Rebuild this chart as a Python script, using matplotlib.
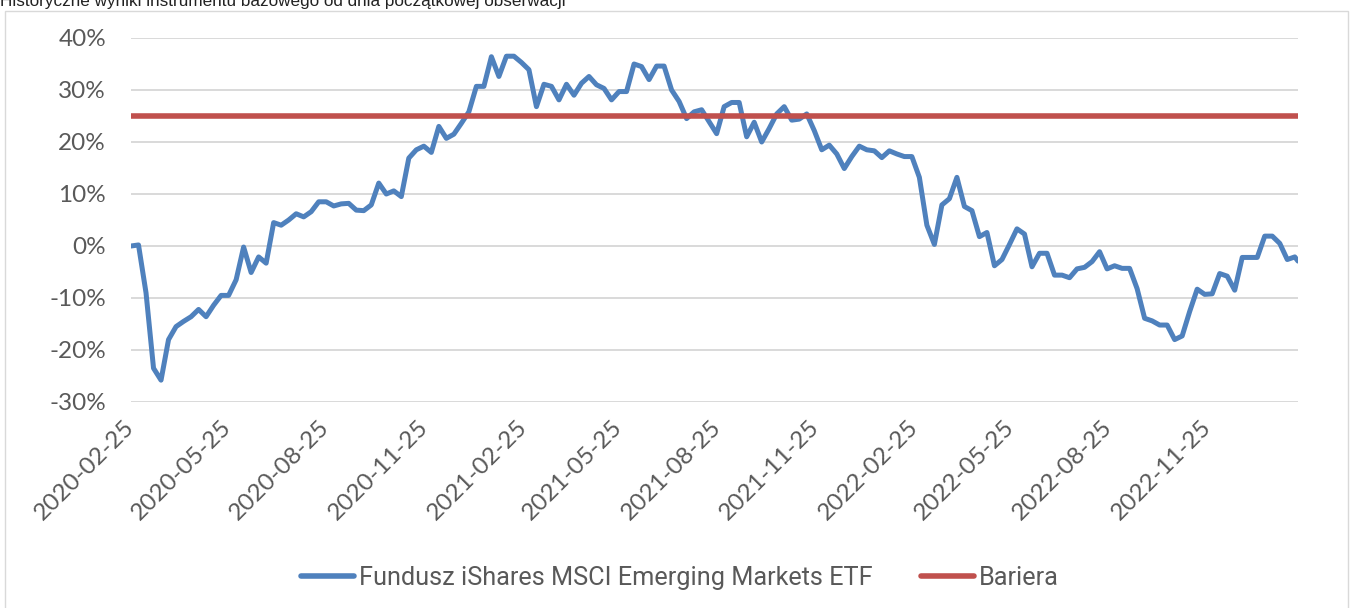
import matplotlib
matplotlib.use("Agg")
import matplotlib.pyplot as plt
import matplotlib.dates as mdates
from matplotlib.ticker import FuncFormatter
from matplotlib.patches import Rectangle
import pandas as pd

plt.rcParams["font.family"] = ["Lato", "DejaVu Sans"]

# ---- data (percent) ----
title = "Historyczne wyniki instrumentu bazowego od dnia początkowej obserwacji"
series_name = "Fundusz iShares MSCI Emerging Markets ETF"
barrier_name = "Bariera"
barrier_level = 25.0
start_date = "2020-02-25"
last_date = "2023-02-17"
etf_values = [
    0.0, 0.2, -9.0, -23.5, -25.8, -18.0, -15.5, -14.5, -13.6, -12.2,
    -13.6, -11.4, -9.5, -9.5, -6.5, -0.2, -5.1, -2.1, -3.3, 4.5,
    4.0, 5.0, 6.2, 5.6, 6.6, 8.5, 8.5, 7.7, 8.1, 8.2,
    6.9, 6.8, 7.9, 12.1, 10.0, 10.6, 9.5, 16.9, 18.5, 19.2,
    18.0, 23.0, 20.7, 21.5, 23.6, 25.8, 30.7, 30.7, 36.4, 32.6,
    36.5, 36.5, 35.3, 33.9, 26.8, 31.1, 30.7, 28.1, 31.1, 29.0,
    31.3, 32.6, 31.0, 30.3, 28.1, 29.7, 29.7, 35.0, 34.5, 32.0,
    34.6, 34.6, 30.0, 27.8, 24.5, 25.8, 26.2, 23.9, 21.6, 26.8,
    27.6, 27.6, 21.0, 23.8, 20.0, 22.6, 25.4, 26.8, 24.2, 24.4,
    25.4, 22.2, 18.5, 19.4, 17.7, 14.9, 17.2, 19.2, 18.5, 18.3,
    17.0, 18.3, 17.7, 17.2, 17.2, 13.2, 4.0, 0.3, 7.9, 9.1,
    13.2, 7.6, 6.8, 1.8, 2.6, -3.8, -2.6, 0.3, 3.3, 2.3,
    -4.0, -1.4, -1.4, -5.6, -5.6, -6.1, -4.4, -4.1, -3.0, -1.1,
    -4.4, -3.8, -4.3, -4.3, -8.2, -13.9, -14.4, -15.2, -15.2, -18.0,
    -17.3, -12.6, -8.3, -9.3, -9.2, -5.3, -5.8, -8.5, -2.2, -2.2,
    -2.2, 1.9, 1.9, 0.5, -2.6, -2.1, -2.9,
]
# weekly observation dates, last one is the final observation
dates = list(pd.date_range(start_date, periods=len(etf_values) - 1, freq="7D")) + [pd.Timestamp(last_date)]
x_ticks = ["2020-02-25", "2020-05-25", "2020-08-25", "2020-11-25",
           "2021-02-25", "2021-05-25", "2021-08-25", "2021-11-25",
           "2022-02-25", "2022-05-25", "2022-08-25", "2022-11-25"]
y_ticks = [-30, -20, -10, 0, 10, 20, 30, 40]

# ---- styling ----
BLUE = "#4F81BD"
RED = "#C0504D"
GRID = "#D9D9D9"
TXT = "#595959"
W, H = 1354, 608

fig = plt.figure(figsize=(W / 100, H / 100), dpi=100)
fig.patch.set_facecolor("white")

# outer chart border
fig.patches.append(Rectangle((4.5 / W, -0.05), (1348 - 4.5) / W, 1.05 - 10.5 / H,
                             transform=fig.transFigure, fill=False,
                             edgecolor=GRID, linewidth=1.0))

fig.text(0.0, 1 - 6 / H, title, fontsize=12.3, family=["Liberation Sans", "DejaVu Sans"],
         color="#222222", ha="left", va="baseline")

ax = fig.add_axes([131 / W, 1 - 402 / H, (1298 - 131) / W, (402 - 38) / H])
ax.plot(dates, etf_values, color=BLUE, linewidth=3.6, solid_joinstyle="round",
        solid_capstyle="round", label=series_name, zorder=3)
ax.plot([dates[0], dates[-1]], [barrier_level, barrier_level], color=RED,
        linewidth=4.0, label=barrier_name, zorder=4)

ax.set_xlim(dates[0], dates[-1])
ax.set_ylim(-30, 40)
ax.set_yticks(y_ticks)
ax.yaxis.set_major_formatter(FuncFormatter(lambda v, p: f"{int(round(v))}%"))
ax.set_xticks([pd.Timestamp(d) for d in x_ticks])
ax.xaxis.set_major_formatter(mdates.DateFormatter("%Y-%m-%d"))

ax.grid(axis="y", color=GRID, linewidth=1.4)
ax.grid(axis="x", visible=False)
ax.set_axisbelow(True)
for s in ax.spines.values():
    s.set_visible(False)
ax.tick_params(axis="both", length=0)
ax.tick_params(axis="y", pad=18, labelsize=17.5, labelcolor=TXT)
ax.tick_params(axis="x", pad=16, labelsize=17.5, labelcolor=TXT)
for lab in ax.get_xticklabels():
    lab.set_rotation(45)
    lab.set_ha("right")
    lab.set_va("center")
    lab.set_rotation_mode("anchor")

leg = fig.legend(loc="center", bbox_to_anchor=(680 / W, 1 - 578 / H), ncol=2,
                 frameon=False, handlelength=2.1, handletextpad=0.2,
                 columnspacing=1.9,
                 prop={"family": ["Roboto", "DejaVu Sans"], "size": 18.2})
for t in leg.get_texts():
    t.set_color(TXT)
for l in leg.get_lines():
    l.set_linewidth(4.0)
    l.set_solid_capstyle("round")

fig.savefig("out.png", dpi=100)
